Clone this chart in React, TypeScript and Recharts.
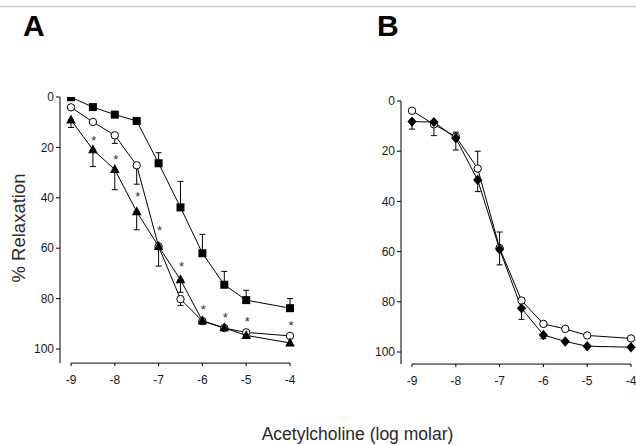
import React from "react";
import {
  ComposedChart,
  Line,
  XAxis,
  YAxis,
  ErrorBar,
  ReferenceLine,
} from "recharts";

const doses = [-9, -8.5, -8, -7.5, -7, -6.5, -6, -5.5, -5, -4];
const xTicks = [-9, -8, -7, -6, -5, -4];
const yTicks = [0, 20, 40, 60, 80, 100];

// Panel A
const squareA = [0.1, 4, 7, 9.5, 26.3, 43.8, 62, 74.5, 80.6, 83.8];
const squareAUp = [0, 0, 0, 0, 4.2, 10.3, 7.5, 5.3, 3.9, 3.8];
const circleA = [4.1, 9.9, 15.2, 27.1, 59.3, 80.2, 88.9, 91.7, 93.4, 94.8];
const circleADown = [0, 0, 3.2, 7.5, 0, 2.5, 0, 0, 0, 0];
const triangleA = [9.1, 20.9, 28.8, 45.5, 59.3, 72.5, 88.8, 91.6, 94.6, 97.6];
const triangleADown = [3, 6.7, 8, 7.2, 7.8, 5, 1.5, 0, 0, 0];
const starsA = [null, 16.5, 24.3, 38.9, 52.2, 66.5, 83.6, 86.8, 88.6, 90.2];

// Panel B
const circleB = [3.9, 9.3, 14.2, 26.9, 58.6, 79.5, 88.8, 90.8, 93.4, 94.6];
const circleBUp = [0, 0, 0, 6.9, 6.4, 0, 0, 0, 0, 0];
const circleBDown = [0, 4.5, 5.3, 0, 0, 0, 0, 0, 0, 0];
const diamondB = [8.2, 8.4, 14.8, 31.5, 59.1, 82.6, 93.2, 95.8, 97.7, 98.1];
const diamondBUp = [0, 0, 2.4, 0, 0, 0, 0, 0, 0, 0];
const diamondBDown = [3, 0, 0, 4.6, 6.2, 4.4, 1.5, 0, 0, 0];

const err = (up: number, down: number) => (up || down ? [up, down] : null);

const dataA = doses.map((x, i) => ({
  x,
  sq: squareA[i],
  sqErr: err(squareAUp[i], 0),
  ci: circleA[i],
  ciErr: err(0, circleADown[i]),
  tr: triangleA[i],
  trErr: err(0, triangleADown[i]),
  star: starsA[i],
}));

const dataB = doses.map((x, i) => ({
  x,
  ci: circleB[i],
  ciErr: err(circleBUp[i], circleBDown[i]),
  di: diamondB[i],
  diErr: err(diamondBUp[i], diamondBDown[i]),
}));

const FONT = "'Liberation Sans', Arial, sans-serif";
const tickStyle = { fontSize: 12, fill: "#1a1a1a", fontFamily: FONT };

const SquareDot = (p: any) =>
  p.cx == null || p.cy == null ? (
    <g key={p.index} />
  ) : (
    <rect key={p.index} x={p.cx - 4} y={p.cy - 4} width={8} height={8} fill="#000" />
  );

const CircleDot = (p: any) =>
  p.cx == null || p.cy == null ? (
    <g key={p.index} />
  ) : (
    <circle key={p.index} cx={p.cx} cy={p.cy} r={3.7} fill="#fff" stroke="#000" strokeWidth={1} />
  );

const TriangleDot = (p: any) =>
  p.cx == null || p.cy == null ? (
    <g key={p.index} />
  ) : (
    <path
      key={p.index}
      d={`M${p.cx},${p.cy - 5.5} L${p.cx + 4.8},${p.cy + 3.5} L${p.cx - 4.8},${p.cy + 3.5} Z`}
      fill="#000"
    />
  );

const DiamondDot = (p: any) =>
  p.cx == null || p.cy == null ? (
    <g key={p.index} />
  ) : (
    <path
      key={p.index}
      d={`M${p.cx},${p.cy - 5.2} L${p.cx + 4.6},${p.cy} L${p.cx},${p.cy + 5.2} L${p.cx - 4.6},${p.cy} Z`}
      fill="#000"
    />
  );

const StarDot = (p: any) =>
  p.cx == null || p.cy == null || p.payload?.star == null ? (
    <g key={p.index} />
  ) : (
    <text
      key={p.index}
      x={p.cx + 1}
      y={p.cy + 6}
      textAnchor="middle"
      fontSize={13}
      fontFamily={FONT}
      fill="#333"
    >
      *
    </text>
  );

function Panel({
  data,
  yMax,
  top,
  width,
  children,
}: {
  data: any[];
  yMax: number;
  top: number;
  width: number;
  children: React.ReactNode;
}) {
  const plotBottom = top + yMax * (top === 97 ? 2.52 : 2.51);
  return (
    <ComposedChart
      width={width}
      height={400}
      data={data}
      margin={{ top, right: width - 290, left: 0, bottom: 400 - plotBottom - 30 }}
    >
      <XAxis
        type="number"
        dataKey="x"
        domain={[-9, -4]}
        ticks={xTicks}
        padding={{ left: 11, right: 0 }}
        axisLine={false}
        tickLine={{ stroke: "#000" }}
        tickSize={3}
        tickMargin={9}
        height={30}
        tick={tickStyle}
        interval={0}
      />
      <YAxis
        type="number"
        reversed
        domain={[0, yMax]}
        ticks={yTicks}
        width={60}
        axisLine={{ stroke: "#000" }}
        tickLine={{ stroke: "#000" }}
        tickSize={4}
        tickMargin={2}
        tick={tickStyle}
        interval={0}
        allowDataOverflow
      />
      <ReferenceLine
        segment={[
          { x: -9, y: yMax },
          { x: -4, y: yMax },
        ]}
        stroke="#000"
        strokeWidth={1}
        ifOverflow="visible"
      />
      {children}
    </ComposedChart>
  );
}

export default function App() {
  return (
    <div
      style={{
        position: "absolute",
        left: 0,
        top: 0,
        width: 636,
        height: 445,
        background: "#fff",
        overflow: "hidden",
      }}
    >
      <div style={{ position: "absolute", left: 0, top: 0 }}>
        <Panel data={dataA} yMax={105.6} top={97} width={320}>
          <Line dataKey="sq" stroke="#000" strokeWidth={1} dot={SquareDot} isAnimationActive={false}>
            <ErrorBar dataKey="sqErr" direction="y" width={3} stroke="#000" strokeWidth={1} />
          </Line>
          <Line dataKey="ci" stroke="#000" strokeWidth={1} dot={CircleDot} isAnimationActive={false}>
            <ErrorBar dataKey="ciErr" direction="y" width={3} stroke="#000" strokeWidth={1} />
          </Line>
          <Line dataKey="tr" stroke="#000" strokeWidth={1} dot={TriangleDot} isAnimationActive={false}>
            <ErrorBar dataKey="trErr" direction="y" width={3} stroke="#000" strokeWidth={1} />
          </Line>
          <Line dataKey="star" stroke="none" dot={StarDot} isAnimationActive={false} />
        </Panel>
      </div>
      <div style={{ position: "absolute", left: 341, top: 0 }}>
        <Panel data={dataB} yMax={104.8} top={101} width={295}>
          <Line dataKey="ci" stroke="#000" strokeWidth={1} dot={CircleDot} isAnimationActive={false}>
            <ErrorBar dataKey="ciErr" direction="y" width={3} stroke="#000" strokeWidth={1} />
          </Line>
          <Line dataKey="di" stroke="#000" strokeWidth={1} dot={DiamondDot} isAnimationActive={false}>
            <ErrorBar dataKey="diErr" direction="y" width={3} stroke="#000" strokeWidth={1} />
          </Line>
        </Panel>
      </div>
      <svg
        width={636}
        height={445}
        style={{ position: "absolute", left: 0, top: 0, pointerEvents: "none" }}
        fontFamily={FONT}
      >
        <line x1={0} x2={636} y1={6.5} y2={6.5} stroke="#ccc" strokeWidth={1.5} />
        <text x={23} y={36} fontSize={30} fontWeight="bold" fill="#000">
          A
        </text>
        <text x={377} y={36} fontSize={30} fontWeight="bold" fill="#000">
          B
        </text>
        <text
          transform="translate(24.5,228) rotate(-90)"
          textAnchor="middle"
          fontSize={18.5}
          fill="#2a2a2a"
        >
          % Relaxation
        </text>
        <text x={357.5} y={440} textAnchor="middle" fontSize={17.5} fill="#2a2a2a">
          Acetylcholine (log molar)
        </text>
      </svg>
    </div>
  );
}
